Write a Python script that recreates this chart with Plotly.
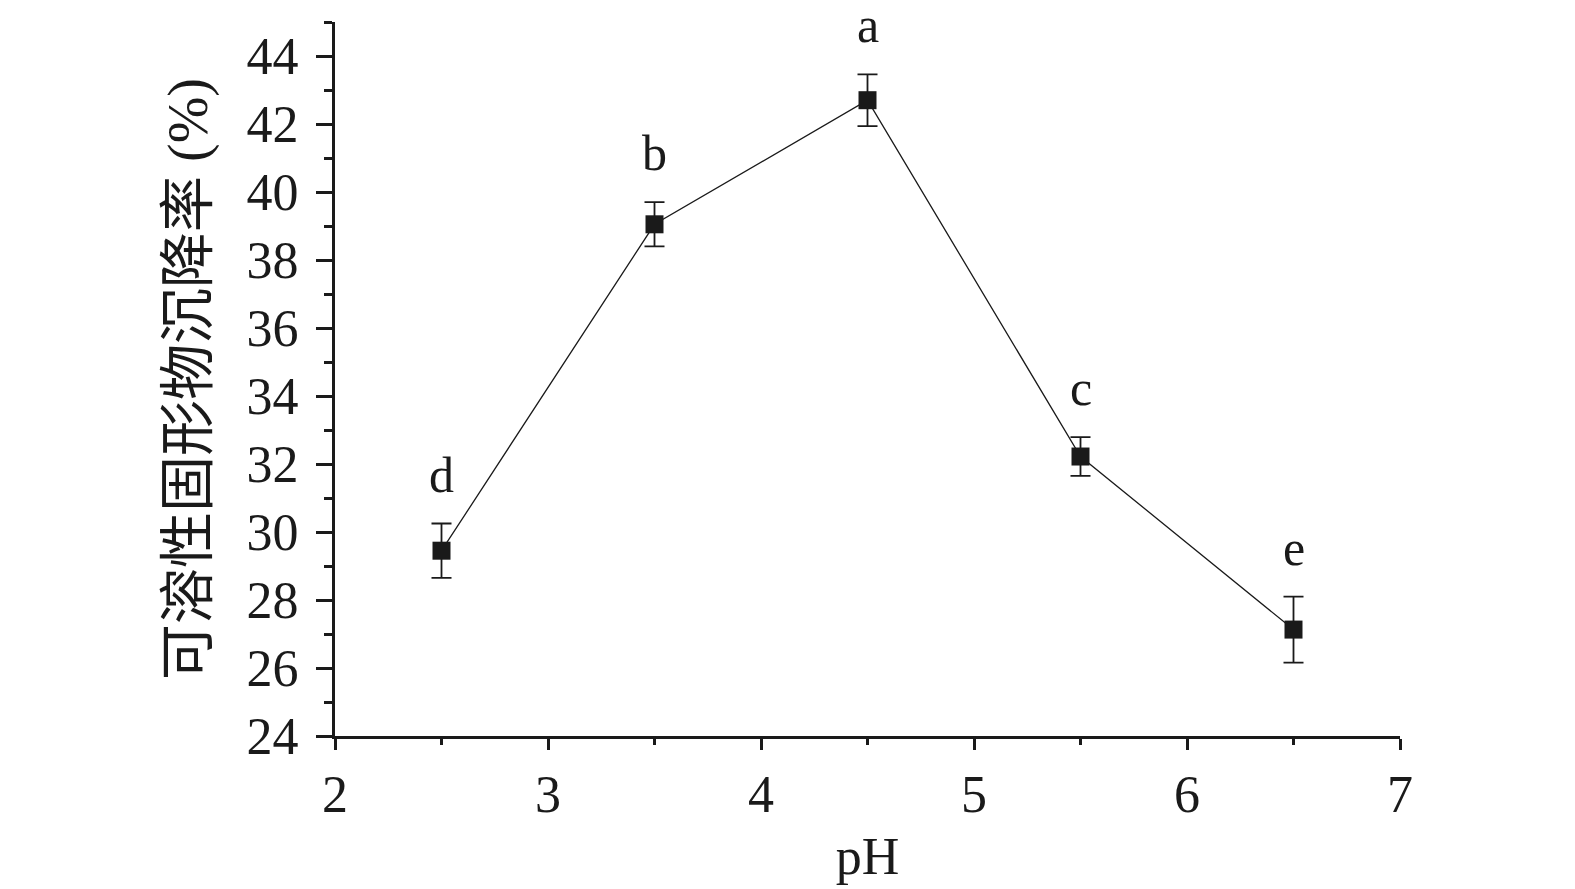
import plotly.graph_objects as go

ph = [2.5, 3.5, 4.5, 5.5, 6.5]
rate = [29.45, 39.05, 42.7, 32.22, 27.13]
err = [0.8, 0.65, 0.76, 0.57, 0.97]
letters = ["d", "b", "a", "c", "e"]

x_ticks = [2, 3, 4, 5, 6, 7]
y_ticks = [24, 26, 28, 30, 32, 34, 36, 38, 40, 42, 44]
y_minor = [25, 27, 29, 31, 33, 35, 37, 39, 41, 43, 45]

FONT = "Times New Roman, Liberation Serif, Noto Sans CJK SC"
CJK = "Liberation Serif, Noto Sans CJK SC"

fig = go.Figure()
fig.add_trace(go.Scatter(
    x=ph, y=rate, mode="lines+markers",
    line=dict(color="#1a1a1a", width=1.3),
    marker=dict(symbol="square", size=18, color="#1a1a1a"),
    error_y=dict(type="data", array=err, visible=True, color="#1a1a1a",
                 thickness=1.8, width=10),
    showlegend=False,
))

for xv, yv, ev, lab in zip(ph, rate, err, letters):
    fig.add_annotation(x=xv, y=yv + ev, text=lab, showarrow=False,
                       yanchor="bottom", yshift=19,
                       font=dict(family=FONT, size=50, color="#1a1a1a"))

fig.update_layout(
    width=1567, height=881,
    margin=dict(l=327, r=175, t=14, b=153),
    plot_bgcolor="white", paper_bgcolor="white",
    font=dict(family=FONT, size=52, color="#1a1a1a"),
)
fig.update_xaxes(
    range=[2, 7], tickvals=x_ticks, showgrid=False, zeroline=False,
    showline=True, linecolor="#1a1a1a", linewidth=3,
    ticks="outside", ticklen=11, tickwidth=3, tickcolor="#1a1a1a",
    minor=dict(dtick=0.5, ticks="outside", ticklen=6, tickwidth=3, tickcolor="#1a1a1a"),
    tickfont=dict(family=FONT, size=52),
    title=dict(text="pH", font=dict(family=FONT, size=52), standoff=16),
    ticklabelstandoff=0, automargin=False,
)
fig.update_yaxes(
    range=[24, 45], tickvals=y_ticks, showgrid=False, zeroline=False,
    showline=True, linecolor="#1a1a1a", linewidth=3,
    ticks="outside", ticklen=16, tickwidth=3, tickcolor="#1a1a1a",
    minor=dict(tickvals=y_minor, ticks="outside", ticklen=8, tickwidth=3, tickcolor="#1a1a1a"),
    tickfont=dict(family=FONT, size=52),
    title=dict(text="可溶性固形物沉降率 (%)", font=dict(family=CJK, size=56), standoff=21),
    ticklabelstandoff=7, automargin=False,
)

fig.write_html("out.html")
